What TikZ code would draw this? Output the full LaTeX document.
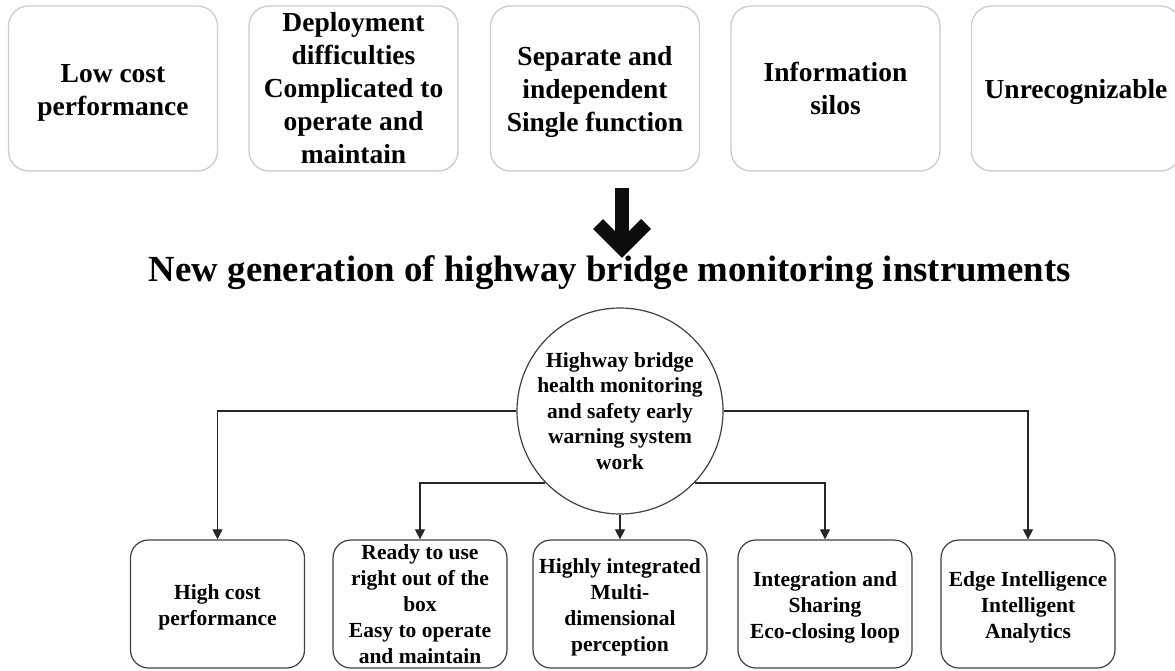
\documentclass[tikz,border=0pt]{standalone}
\usepackage{fontspec}
\setmainfont{Liberation Serif}
\usetikzlibrary{arrows.meta}
\newcommand\topst{\rule{0pt}{26pt}}
\newcommand\botst{\rule{0pt}{22pt}}
\tikzset{
  topbox/.style={draw=black!20, line width=1.3pt, rounded corners=20pt, minimum width=209pt, minimum height=165pt, fill=white, align=center, font=\bfseries\fontsize{27.5}{33}\selectfont, inner sep=0pt},
  botbox/.style={draw=black!75, line width=1.2pt, rounded corners=18pt, minimum width=174pt, minimum height=128pt, align=center, font=\bfseries\fontsize{21.5}{26}\selectfont, inner sep=0pt},
  hubstyle/.style={draw=black!75, line width=1.2pt, circle, minimum size=206pt, align=center, font=\bfseries\fontsize{21.5}{25.5}\selectfont, inner sep=0pt},
  conn/.style={draw=black!85, line width=1.1pt, -{Triangle[width=10pt,length=10pt]}},
  bigarrow/.style={line width=14pt, black!95}
}
\begin{document}
\begin{tikzpicture}[x=1pt,y=-1pt]
\useasboundingbox (0,0) rectangle (1175,671);
\clip (0,0) rectangle (1175,671);
\fill[white] (0,0) rectangle (1175,671);
% top row
\node[topbox] (t1) at (113,88.5) {\topst Low cost\\performance};
\node[topbox] (t2) at (353.5,88.5) {Deployment\\difficulties\\Complicated to\\operate and\\maintain};
\node[topbox] (t3) at (595,88.5) {\topst Separate and\\independent\\Single function};
\node[topbox] (t4) at (835.5,88.5) {Information\\silos};
\node[topbox] (t5) at (1076,88.5) {\topst Unrecognizable};
% big arrow
\draw[bigarrow] (622,188) -- (622,250);
\draw[bigarrow, line join=miter] (598,224) -- (622,248) -- (646,224);
% title
\node[font=\bfseries\fontsize{36.8}{40}\selectfont, inner sep=0pt] (title) at (610,273) {New generation of highway bridge monitoring instruments};
% hub
\node[hubstyle] (hub) at (620,411) {Highway bridge\\health monitoring\\and safety early\\warning system\\work};
% bottom row
\node[botbox] (b1) at (217.5,604) {\botst High cost\\performance};
\node[botbox] (b2) at (420,604) {Ready to use\\right out of the\\box\\Easy to operate\\and maintain};
\node[botbox] (b3) at (620,604) {\botst Highly integrated\\Multi-\\dimensional\\perception};
\node[botbox] (b4) at (825,604) {\botst Integration and\\Sharing\\Eco-closing loop};
\node[botbox] (b5) at (1028,604) {\botst Edge Intelligence\\Intelligent\\Analytics};
% connectors
\draw[conn] (hub.west) -| (b1.north);
\draw[conn] (hub.east) -| (b5.north);
\draw[conn] (hub.224) -| (b2.north);
\draw[conn] (hub.-44) -| (b4.north);
\draw[conn] (hub.south) -- (b3.north);
\end{tikzpicture}
\end{document}
